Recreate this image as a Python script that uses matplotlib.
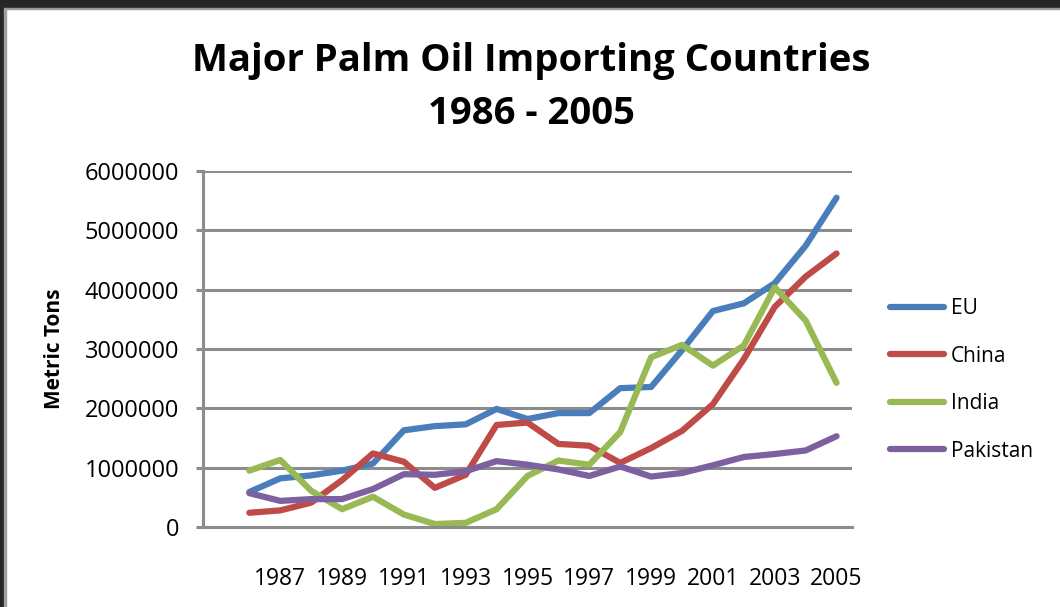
import matplotlib.pyplot as plt
from matplotlib.patches import Rectangle

years = list(range(1986, 2006))
eu = [590000, 820000, 870000, 950000, 1070000, 1630000, 1700000, 1730000, 1990000, 1820000,
      1920000, 1920000, 2340000, 2360000, 2980000, 3640000, 3770000, 4110000, 4740000, 5550000]
china = [240000, 280000, 410000, 790000, 1240000, 1100000, 660000, 880000, 1720000, 1760000,
         1400000, 1370000, 1080000, 1330000, 1620000, 2070000, 2830000, 3710000, 4220000, 4610000]
india = [950000, 1130000, 610000, 300000, 510000, 210000, 50000, 70000, 300000, 860000,
         1120000, 1050000, 1600000, 2860000, 3070000, 2720000, 3060000, 4040000, 3480000, 2430000]
pakistan = [570000, 440000, 470000, 470000, 640000, 890000, 880000, 940000, 1110000, 1050000,
            970000, 860000, 1020000, 850000, 910000, 1040000, 1180000, 1230000, 1290000, 1530000]

series = [("EU", eu, "#4A7EBB"), ("China", china, "#BE4B48"),
          ("India", india, "#98B954"), ("Pakistan", pakistan, "#7D60A0")]

tick_years = list(range(1987, 2006, 2))
y_ticks = list(range(0, 6000001, 1000000))

plt.rcParams["font.family"] = ["Open Sans", "DejaVu Sans"]

fig = plt.figure(figsize=(10.6, 6.07), dpi=100)
# screenshot frame: dark band on top, dark edge on the left
fig.patches.append(Rectangle((0, 1 - 8 / 607), 1, 8 / 607, transform=fig.transFigure,
                             color="#262626", zorder=0))
fig.patches.append(Rectangle((0, 1 - 9 / 607), 1, 1.5 / 607, transform=fig.transFigure,
                             color="#9a9a9a", zorder=0))
fig.patches.append(Rectangle((0, 0), 3.5 / 1060, 1, transform=fig.transFigure,
                             color="#262626", zorder=0))
fig.patches.append(Rectangle((3.5 / 1060, 0), 2.5 / 1060, 1 - 8 / 607, transform=fig.transFigure,
                             color="#a0a0a0", zorder=0))

ax = fig.add_axes([203 / 1060, 1 - 527 / 607, 649 / 1060, 356 / 607])
for name, vals, col in series:
    ax.plot(years, vals, color=col, lw=4.5, label=name, solid_capstyle="round",
            solid_joinstyle="round")

ax.set_xlim(1984.5, 2005.5)
ax.set_ylim(0, 6000000)
ax.set_yticks(y_ticks)
ax.set_yticklabels([str(v) for v in y_ticks])
ax.set_xticks(tick_years)
ax.set_xticklabels([str(y) for y in tick_years])
ax.grid(axis="y", color="#8c8c8c", lw=2.2)
ax.set_axisbelow(True)
for s in ["top", "right"]:
    ax.spines[s].set_visible(False)
for s in ["left", "bottom"]:
    ax.spines[s].set_color("#8c8c8c")
    ax.spines[s].set_linewidth(2.2)
ax.tick_params(axis="y", length=5, width=2.2, color="#8c8c8c", labelsize=17, pad=12)
ax.tick_params(axis="x", length=0, labelsize=16.5, pad=29)
ax.set_ylabel("Metric Tons", fontsize=15, fontweight="bold", labelpad=14)

fig.text(531 / 1060, 1 - 61 / 607, "Major Palm Oil Importing Countries", ha="center",
         va="center", fontsize=27.5, fontweight="bold")
fig.text(531 / 1060, 1 - 114 / 607, "1986 - 2005", ha="center", va="center",
         fontsize=27.5, fontweight="bold")

ax.legend(loc="center left", bbox_to_anchor=(1.03, 0.413), frameon=False, fontsize=15,
          handlelength=2.6, labelspacing=1.27, handletextpad=0.3)

fig.savefig("out.png", dpi=100)
